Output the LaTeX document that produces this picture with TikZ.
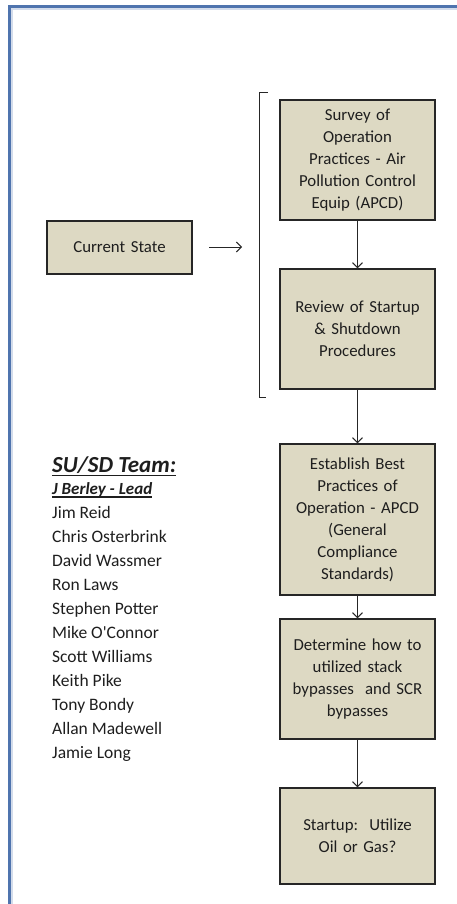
\documentclass[tikz,border=0pt]{standalone}
\usepackage{fontspec}
\setmainfont{Carlito}
\usetikzlibrary{arrows.meta}
\definecolor{boxfill}{HTML}{DDD9C3}
\definecolor{framebl}{HTML}{4F74AE}
\definecolor{inkc}{HTML}{1E1E1E}
\tikzset{
  stepbox/.style={draw=black!85, line width=1.3pt, fill=boxfill, text=inkc,
    minimum width=155pt, align=center, inner sep=2pt, text width=150pt,
    font=\fontsize{16.8}{22}\selectfont},
  flow/.style={draw=black!85, line width=1pt, -{Straight Barb[length=5pt,width=10pt,line width=1pt]}},
  member/.style={anchor=base west, inner sep=0pt, text=inkc, font=\fontsize{17.5}{20}\selectfont}
}
\begin{document}
\begin{tikzpicture}[x=1pt,y=-1pt]
\useasboundingbox (0,0) rectangle (456,904);
% page frame with soft shadow
\draw[line width=4.5pt, framebl!25] (11,930) -- (11,8) -- (480,8);
\draw[line width=2.4pt, framebl] (9.5,930) -- (9.5,6.5) -- (480,6.5);

% process boxes
\node[stepbox, minimum height=120pt] (survey) at (357.5,160)
  {Survey of\\Operation\\Practices - Air\\Pollution Control\\Equip (APCD)};
\node[stepbox, minimum height=120pt] (review) at (357.5,329)
  {Review of Startup\\\& Shutdown\\Procedures};
\node[stepbox, minimum height=151pt] (best) at (357.5,519.5)
  {Establish Best\\Practices of\\Operation - APCD\\(General\\Compliance\\Standards)};
\node[stepbox, minimum height=120pt] (bypass) at (357.5,679)
  {Determine how to\\utilized stack\\bypasses\ \ and SCR\\bypasses};
\node[stepbox, minimum height=96pt] (fuel) at (357.5,836)
  {Startup:\ \ Utilize\\Oil or Gas?};
\node[stepbox, minimum width=145pt, text width=140pt, minimum height=53pt] (current) at (119.5,247.5)
  {Current State};

\draw[flow] (survey) -- (review);
\draw[flow] (review) -- (best);
\draw[flow] (best) -- (bypass);
\draw[flow] (bypass) -- (fuel);

% arrow into the bracketed group
\coordinate (cs1) at (209,247);
\coordinate (cs2) at (242,247);
\draw[flow] (cs1) -- (cs2);

% bracket around the first two steps
\coordinate (bt) at (268,92.5);
\coordinate (bb) at (266,397);
\draw[black!85, line width=0.9pt] (bt) -- (259.5,92.5) -- (259.5,397) -- (bb);

% team list
\node[member, font=\fontsize{23}{26}\bfseries\itshape\selectfont] (team) at (52,472) {SU/SD Team:};
\draw[inkc, line width=1.8pt] ([yshift=-3.5pt]team.base west) -- ([yshift=-3.5pt]team.base east);
\node[member, font=\fontsize{17}{20}\bfseries\itshape\selectfont] (lead) at (52,494) {J Berley - Lead};
\draw[inkc, line width=1.1pt] ([yshift=-3pt]lead.base west) -- ([yshift=-3pt]lead.base east);
\node[member] (m1) at (52,518) {Jim Reid};
\node[member] (m2) at (52,542) {Chris Osterbrink};
\node[member] (m3) at (52,566) {David Wassmer};
\node[member] (m4) at (52,590) {Ron Laws};
\node[member] (m5) at (52,614) {Stephen Potter};
\node[member] (m6) at (52,638) {Mike O\textquotesingle Connor};
\node[member] (m7) at (52,662) {Scott Williams};
\node[member] (m8) at (52,686) {Keith Pike};
\node[member] (m9) at (52,710) {Tony Bondy};
\node[member] (m10) at (52,734) {Allan Madewell};
\node[member] (m11) at (52,758) {Jamie Long};
\end{tikzpicture}
\end{document}
